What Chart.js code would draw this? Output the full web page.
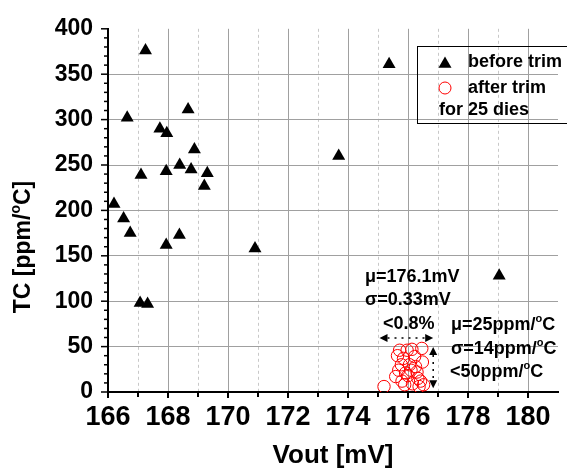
<!DOCTYPE html>
<html>
<head>
<meta charset="utf-8">
<script src="https://cdn.jsdelivr.net/npm/chart.js@4/dist/chart.umd.min.js"></script>
<style>
  body { margin: 0; background: #fff; }
  canvas { display: block; }
</style>
</head>
<body>
<canvas id="chart" width="567" height="472"></canvas>
<script>
// before trim (23 visible dies)
const beforeVout = [167.25, 166.64, 167.10, 167.73, 167.96, 168.67, 167.94, 168.39, 168.77, 168.88, 169.31, 169.21,
                    173.69, 166.20, 166.52, 166.74, 167.94, 168.38, 170.90, 167.07, 167.32, 175.37, 179.04];
const beforeTC = [376, 302, 239, 290, 285, 311, 243, 250, 245, 267, 241, 227,
                  260, 207, 191, 175, 162, 173, 158, 98, 97, 361, 128];

// after trim (25 dies)
const afterVout = [175.20, 175.72, 175.97, 176.13, 176.46, 176.22, 176.48, 175.78, 175.69, 176.30, 175.59, 176.00, 176.33,
                   175.89, 176.37, 176.52, 175.85, 176.05, 175.80, 176.25, 176.10, 175.65, 176.42, 176.15, 175.92];
const afterTC = [6, 46, 46, 47, 48, 39, 33, 30, 24, 22, 17, 18, 15,
                 8, 6, 8, 37, 30, 12, 28, 24, 40, 12, 9, 21];

const xTicks = [166, 168, 170, 172, 174, 176, 178, 180];
const yTicks = [0, 50, 100, 150, 200, 250, 300, 350, 400];

const FONT = '"Liberation Sans", Arial, sans-serif';

function toPoints(xs, ys) {
    return xs.map((x, i) => ({ x: x, y: ys[i] }));
}

// text with a raised small "o" (degree)
function degText(ctx, x, y, pre, post, size, align) {
    const big = 'bold ' + size + 'px ' + FONT;
    const small = 'bold ' + Math.round(size * 0.6) + 'px ' + FONT;
    ctx.font = big;
    const w1 = ctx.measureText(pre).width;
    const w3 = ctx.measureText(post).width;
    ctx.font = small;
    const w2 = ctx.measureText('o').width;
    let sx = x;
    if (align === 'center') sx = x - (w1 + w2 + w3) / 2;
    ctx.textAlign = 'left';
    ctx.font = big;
    ctx.fillText(pre, sx, y);
    ctx.font = small;
    ctx.fillText('o', sx + w1, y - size * 0.32);
    ctx.font = big;
    ctx.fillText(post, sx + w1 + w2, y);
}

function triangle(ctx, x, y, r) {
    ctx.beginPath();
    ctx.moveTo(x, y - r);
    ctx.lineTo(x + Math.sin(2 * Math.PI / 3) * r, y + r / 2);
    ctx.lineTo(x - Math.sin(2 * Math.PI / 3) * r, y + r / 2);
    ctx.closePath();
    ctx.fill();
}

function arrowHead(ctx, x, y, dx, dy) {
    // dx,dy unit direction of the tip
    const len = 8, half = 4;
    ctx.beginPath();
    ctx.moveTo(x, y);
    ctx.lineTo(x - dx * len - dy * half, y - dy * len + dx * half);
    ctx.lineTo(x - dx * len + dy * half, y - dy * len - dx * half);
    ctx.closePath();
    ctx.fill();
}

const overlay = {
    id: 'overlay',
    beforeDraw(chart) {
        const ctx = chart.ctx;
        ctx.save();
        ctx.fillStyle = '#fff';
        ctx.fillRect(0, 0, chart.width, chart.height);
        ctx.restore();
    },
    afterDraw(chart) {
        const ctx = chart.ctx;
        const xs = chart.scales.x;
        const ys = chart.scales.y;
        const area = chart.chartArea;
        ctx.save();
        ctx.strokeStyle = '#000';
        ctx.fillStyle = '#000';

        // tick marks (major + minor)
        ctx.lineWidth = 2;
        for (let v = 166; v <= 180; v++) {
            const px = xs.getPixelForValue(v);
            ctx.beginPath();
            ctx.moveTo(px, area.bottom);
            ctx.lineTo(px, area.bottom + (v % 2 === 0 ? 6 : 5));
            ctx.stroke();
        }
        ctx.lineWidth = 1.5;
        for (let v = 0; v <= 400; v += 10) {
            const py = ys.getPixelForValue(v);
            ctx.beginPath();
            ctx.moveTo(area.left, py);
            ctx.lineTo(area.left - (v % 50 === 0 ? 7 : 4), py);
            ctx.stroke();
        }

        // axis titles
        ctx.textBaseline = 'middle';
        ctx.textAlign = 'center';
        ctx.font = 'bold 26px ' + FONT;
        ctx.fillText('Vout [mV]', (area.left + area.right) / 2, 456);
        ctx.save();
        ctx.translate(24, 247);
        ctx.rotate(-Math.PI / 2);
        degText(ctx, 0, 0, 'TC [ppm/', 'C]', 23, 'center');
        ctx.restore();

        // legend
        ctx.lineWidth = 1;
        ctx.strokeRect(417.5, 46.5, 160, 77);
        triangle(ctx, 445, 64, 7.5);
        ctx.strokeStyle = '#ff0000';
        ctx.beginPath();
        ctx.arc(445, 88, 6, 0, Math.PI * 2);
        ctx.stroke();
        ctx.font = 'bold 18px ' + FONT;
        ctx.textAlign = 'left';
        ctx.fillText('before trim', 468, 62);
        ctx.fillText('after trim', 468, 88);
        ctx.fillText('for 25 dies', 439, 110);

        // annotations
        ctx.fillText('\u03BC=176.1mV', 365, 277);
        ctx.fillText('\u03C3=0.33mV', 365, 300);
        ctx.fillText('<0.8%', 383, 324);
        degText(ctx, 451, 325, '\u03BC=25ppm/', 'C', 18, 'left');
        degText(ctx, 451, 349, '\u03C3=14ppm/', 'C', 18, 'left');
        degText(ctx, 450, 372, '<50ppm/', 'C', 18, 'left');

        // spread arrows
        const ax1 = xs.getPixelForValue(175.05), ax2 = xs.getPixelForValue(176.84);
        const ay = ys.getPixelForValue(59.5);
        const vy1 = ys.getPixelForValue(49.5), vy2 = ys.getPixelForValue(4);
        ctx.strokeStyle = '#000';
        ctx.lineWidth = 1.5;
        ctx.setLineDash([2, 5]);
        ctx.beginPath();
        ctx.moveTo(ax1 + 8, ay);
        ctx.lineTo(ax2 - 8, ay);
        ctx.moveTo(ax2, vy1 + 8);
        ctx.lineTo(ax2, vy2 - 8);
        ctx.stroke();
        ctx.setLineDash([]);
        arrowHead(ctx, ax1, ay, -1, 0);
        arrowHead(ctx, ax2, ay, 1, 0);
        arrowHead(ctx, ax2, vy1, 0, -1);
        arrowHead(ctx, ax2, vy2, 0, 1);

        ctx.restore();
    }
};

const ctx = document.getElementById('chart').getContext('2d');

new Chart(ctx, {
    type: 'scatter',
    data: {
        datasets: [{
            label: 'before trim',
            data: toPoints(beforeVout, beforeTC),
            pointStyle: 'triangle',
            pointRadius: 7.5,
            backgroundColor: '#000',
            borderColor: '#000',
            borderWidth: 0
        }, {
            label: 'after trim',
            data: toPoints(afterVout, afterTC),
            pointStyle: 'circle',
            pointRadius: 6.2,
            backgroundColor: 'rgba(0,0,0,0)',
            borderColor: '#ff0000',
            borderWidth: 1
        }]
    },
    options: {
        responsive: false,
        animation: false,
        events: [],
        layout: { padding: { left: 0, right: 2, top: 23, bottom: 0 } },
        plugins: { legend: { display: false }, tooltip: { enabled: false } },
        scales: {
            x: {
                type: 'linear',
                min: 166,
                max: 181,
                afterFit: s => { s.height = 80; },
                ticks: {
                    stepSize: 1,
                    autoSkip: false,
                    maxRotation: 0,
                    minRotation: 0,
                    padding: 9,
                    color: '#000',
                    font: { family: FONT, size: 27, weight: 'bold' },
                    callback: v => xTicks.includes(v) ? String(v) : ''
                },
                grid: {
                    drawTicks: false,
                    lineWidth: 1,
                    color: c => {
                        const v = c.tick ? c.tick.value : 0;
                        if (v <= 166 || v >= 181) return 'rgba(0,0,0,0)';
                        return v % 2 === 0 ? '#a0a0a0' : '#c8c8c8';
                    }
                },
                border: {
                    color: '#000',
                    width: 2,
                    dash: c => (c.tick && c.tick.value % 2 !== 0) ? [3, 3] : []
                }
            },
            y: {
                min: 0,
                max: 400,
                afterFit: s => { s.width = 108; },
                ticks: {
                    stepSize: 50,
                    padding: 15,
                    color: '#000',
                    font: { family: FONT, size: 23, weight: 'bold' },
                    callback: v => yTicks.includes(v) ? String(v) : ''
                },
                grid: {
                    drawTicks: false,
                    lineWidth: 1,
                    color: c => {
                        const v = c.tick ? c.tick.value : 0;
                        return (v <= 0 || v >= 400) ? 'rgba(0,0,0,0)' : '#a0a0a0';
                    }
                },
                border: { color: '#000', width: 2 }
            }
        }
    },
    plugins: [overlay]
});
</script>
</body>
</html>
